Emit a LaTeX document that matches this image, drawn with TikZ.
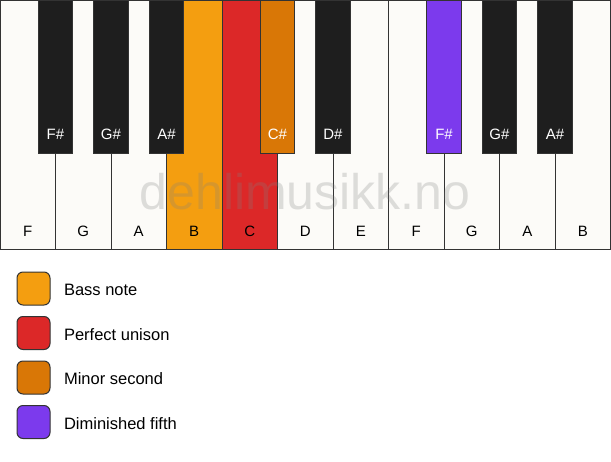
\documentclass[tikz,border=0pt]{standalone}
\usepackage{fontspec}
\setmainfont{Liberation Sans}
\usetikzlibrary{positioning}
\definecolor{keywhite}{HTML}{FCFBF8}
\definecolor{keyblack}{HTML}{1E1E1E}
\definecolor{keyline}{HTML}{333333}
\definecolor{bass}{HTML}{F49E10}
\definecolor{unison}{HTML}{DC2828}
\definecolor{minsecond}{HTML}{D97706}
\definecolor{dimfifth}{HTML}{7C3AED}
\tikzset{
	whitekey/.style={rectangle, draw=keyline, line width=1pt, fill=keywhite, inner sep=0pt, minimum width=55.5, minimum height=249.5},
	blackkey/.style={rectangle, draw=keyline, line width=1pt, fill=keyblack, inner sep=0pt, minimum width=34.5, minimum height=153},
	whitename/.style={anchor=base, yshift=14pt, text=black, font=\fontsize{15}{15}\selectfont},
	blackname/.style={anchor=base, yshift=14pt, text=white, font=\fontsize{15}{15}\selectfont},
	legendbox/.style={rectangle, rounded corners=6pt, draw=keyline, line width=1pt, minimum size=33, inner sep=0pt},
	legendtext/.style={right=10pt of #1, yshift=-1.5pt, font=\fontsize{16.5}{16.5}\selectfont}
}

\begin{document}
\begin{tikzpicture}[x=1pt, y=-1pt]
		\useasboundingbox (0,0) rectangle (611,461);
		% white keys
		\node[whitekey, label={[whitename]south:F}] (F1) at (27.75,124.75) {};
		\node[whitekey, label={[whitename]south:G}] (G1) at (83.25,124.75) {};
		\node[whitekey, label={[whitename]south:A}] (A1) at (138.75,124.75) {};
		\node[whitekey, fill=bass, label={[whitename]south:B}] (B1) at (194.25,124.75) {};
		\node[whitekey, fill=unison, label={[whitename]south:C}] (C2) at (249.75,124.75) {};
		\node[whitekey, label={[whitename]south:D}] (D2) at (305.25,124.75) {};
		\node[whitekey, label={[whitename]south:E}] (E2) at (360.75,124.75) {};
		\node[whitekey, label={[whitename]south:F}] (F2) at (416.25,124.75) {};
		\node[whitekey, label={[whitename]south:G}] (G2) at (471.75,124.75) {};
		\node[whitekey, label={[whitename]south:A}] (A2) at (527.25,124.75) {};
		\node[whitekey, label={[whitename]south:B}] (B2) at (582.75,124.75) {};
		% watermark
		\node[anchor=base, text=gray, opacity=0.25, font=\fontsize{50}{50}\selectfont] (mark) at (305,209) {dehlimusikk.no};
		% black keys
		\node[blackkey, label={[blackname]south:F\#}] (Fs1) at (55.5,76.5) {};
		\node[blackkey, label={[blackname]south:G\#}] (Gs1) at (111,76.5) {};
		\node[blackkey, label={[blackname]south:A\#}] (As1) at (166.5,76.5) {};
		\node[blackkey, fill=minsecond, label={[blackname]south:C\#}] (Cs2) at (277.5,76.5) {};
		\node[blackkey, label={[blackname]south:D\#}] (Ds2) at (333,76.5) {};
		\node[blackkey, fill=dimfifth, label={[blackname]south:F\#}] (Fs2) at (444,76.5) {};
		\node[blackkey, label={[blackname]south:G\#}] (Gs2) at (499.5,76.5) {};
		\node[blackkey, label={[blackname]south:A\#}] (As2) at (555,76.5) {};
		% legend
		\node[legendbox, fill=bass] (l1) at (33.5,288.5) {};
		\node[legendbox, fill=unison] (l2) at (33.5,333) {};
		\node[legendbox, fill=minsecond] (l3) at (33.5,377.5) {};
		\node[legendbox, fill=dimfifth] (l4) at (33.5,422) {};
		\node[legendtext=l1] (t1) {Bass note};
		\node[legendtext=l2] (t2) {Perfect unison};
		\node[legendtext=l3] (t3) {Minor second};
		\node[legendtext=l4] (t4) {Diminished fifth};
	\end{tikzpicture}
\end{document}
